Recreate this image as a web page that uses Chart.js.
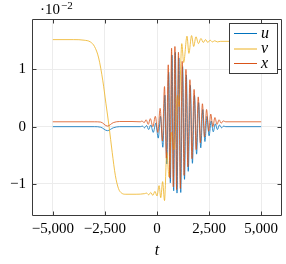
<!DOCTYPE html>
<html><head><meta charset="utf-8">
<script src="https://cdn.jsdelivr.net/npm/chart.js@4.4.1/dist/chart.umd.min.js"></script>
<style>html,body{margin:0;padding:0;background:#fff;}canvas{display:block;}</style>
</head><body>
<canvas id="c" width="286" height="264" style="width:286px;height:264px"></canvas>
<script>
// ---- data (values in units of 10^-2) ----
const xTicks = [-5000, -2500, 0, 2500, 5000];
const yTicks = [-1, 0, 1];
const seriesNames = ['u', 'v', 'x'];

const uT = [-5000,-3000,-2700,-2380,-2100,-1800,-800,-700,-600,-500,-400,-300,-180,-60,60,170,280,380,470,560,640,720,800,880,960,1050,1140,1230,1320,1410,1500,1600,1700,1800,1900,2000,2100,2200,2300,2400,2500,2600,2700,2800,2900,3000,3100,3200,3300,5000];
const uY = [0,0,-0.01,-0.07,-0.02,0,0,0.01,-0.02,0.02,-0.05,0.03,-0.10,0.06,-0.20,0.18,-0.36,0.55,-0.65,0.95,-0.98,1.25,-1.12,1.30,-1.16,1.20,-1.15,1.05,-0.92,0.90,-0.78,0.72,-0.64,0.55,-0.48,0.42,-0.37,0.30,-0.26,0.18,-0.16,0.10,-0.09,0.05,-0.05,0.03,-0.02,0.01,0,0];

const vT = [-5000,-4000,-3500,-3200,-3000,-2800,-2600,-2450,-2300,-2150,-2000,-1850,-1700,-1500,-1000,-600,-500,-400,-300,-200,-100,0,100,180,270,360,470,580,700,820,980,1060,1190,1280,1440,1530,1660,1760,1870,1990,2110,2220,2330,2440,2550,2660,2770,2900,3050,5000];
const vY = [1.52,1.52,1.51,1.48,1.40,1.20,0.80,0.40,0.00,-0.45,-0.85,-1.08,-1.16,-1.18,-1.18,-1.17,-1.16,-1.19,-1.15,-1.20,-1.13,-1.21,-1.03,-1.24,-0.96,-1.29,-0.45,-0.88,-0.10,-0.40,0.55,0.35,1.45,1.12,1.58,1.28,1.59,1.40,1.57,1.45,1.54,1.47,1.52,1.47,1.51,1.48,1.50,1.48,1.49,1.49];

const xT = [-5000,-3000,-2700,-2380,-2100,-1800,-1200,-800,-720,-620,-520,-420,-320,-200,-80,40,150,260,360,450,540,620,700,780,860,940,1030,1120,1210,1300,1390,1480,1580,1680,1780,1880,1980,2080,2180,2280,2380,2480,2580,2680,2780,2880,2980,3080,3180,3300,5000];
const xY = [0.085,0.085,0.08,0.01,0.07,0.09,0.09,0.085,0.10,0.07,0.12,0.04,0.14,0.00,0.18,-0.10,0.32,-0.25,0.70,-0.55,1.08,-0.90,1.37,-1.05,1.40,-1.10,1.30,-1.08,1.14,-0.85,1.00,-0.70,0.82,-0.56,0.65,-0.40,0.52,-0.28,0.40,-0.18,0.30,-0.08,0.22,0.00,0.16,0.04,0.12,0.06,0.10,0.085,0.085];

const colors = ['#0072BD', '#EDB120', '#D95319'];
const serif = "'Liberation Serif', 'DejaVu Serif', serif";

function pts(T, Y) { return T.map((t, i) => ({x: t, y: Y[i]})); }
function fmt(v) { return (v < 0 ? '\u2212' : '') + Math.abs(v).toLocaleString('en-US'); }

const decor = {
  id: 'decor',
  afterDatasetsDraw(chart) {
    const ctx = chart.ctx, a = chart.chartArea;
    const xs = chart.scales.x, ys = chart.scales.y;
    ctx.save();
    ctx.strokeStyle = '#3a3a3a';
    ctx.lineWidth = 1;
    ctx.beginPath();
    const L = Math.round(a.left) + 0.5, R = Math.round(a.right) - 0.5, T = Math.round(a.top) + 0.5, B = Math.round(a.bottom) - 0.5;
    ctx.rect(L, T, R - L, B - T);
    xTicks.forEach(v => {
      const px = Math.round(xs.getPixelForValue(v)) + 0.5;
      ctx.moveTo(px, B); ctx.lineTo(px, B - 4);
      ctx.moveTo(px, T); ctx.lineTo(px, T + 4);
    });
    yTicks.forEach(v => {
      const py = Math.round(ys.getPixelForValue(v)) + 0.5;
      ctx.moveTo(L, py); ctx.lineTo(L + 4, py);
      ctx.moveTo(R, py); ctx.lineTo(R - 4, py);
    });
    ctx.stroke();
    // multiplier
    ctx.fillStyle = '#000';
    ctx.textBaseline = 'alphabetic';
    ctx.textAlign = 'left';
    ctx.font = '15px ' + serif;
    const base = '\u00b710';
    ctx.fillText(base, 40, 14);
    const w = ctx.measureText(base).width;
    ctx.font = '11px ' + serif;
    ctx.fillText('\u22122', 40 + w + 1, 9);
    // legend
    const lx = 229.5, ly = 23.5, lw = 48, lh = 50;
    ctx.fillStyle = '#fff';
    ctx.fillRect(lx, ly, lw, lh);
    ctx.strokeStyle = '#3a3a3a';
    ctx.strokeRect(lx, ly, lw, lh);
    const rows = [33.5, 49, 63.5];
    seriesNames.forEach((n, i) => {
      ctx.strokeStyle = colors[i];
      ctx.lineWidth = 1;
      ctx.beginPath();
      ctx.moveTo(234, rows[i]); ctx.lineTo(257, rows[i]);
      ctx.stroke();
      ctx.fillStyle = '#000';
      ctx.font = 'italic 16px ' + serif;
      ctx.textBaseline = 'alphabetic';
      ctx.fillText(n, 261, rows[i] + 4);
    });
    ctx.restore();
  }
};

new Chart(document.getElementById('c'), {
  type: 'scatter',
  data: {
    datasets: [
      {label: 'u', data: pts(uT, uY), borderColor: colors[0], order: 3},
      {label: 'v', data: pts(vT, vY), borderColor: colors[1], order: 2},
      {label: 'x', data: pts(xT, xY), borderColor: colors[2], order: 1}
    ].map(d => Object.assign(d, {showLine: true, pointRadius: 0, borderWidth: 0.8, cubicInterpolationMode: 'monotone', fill: false}))
  },
  options: {
    responsive: false,
    devicePixelRatio: 1,
    animation: false,
    layout: {padding: {top: 19, right: 4, left: 0, bottom: 0}},
    plugins: {legend: {display: false}, tooltip: {enabled: false}},
    scales: {
      x: {
        type: 'linear', min: -6000, max: 6000,
        afterBuildTicks: s => { s.ticks = xTicks.map(v => ({value: v})); },
        afterFit: s => { s.height = 48; },
        grid: {color: '#ececec', drawTicks: false},
        border: {display: false},
        ticks: {padding: 4, color: '#000', font: {family: serif, size: 15}, callback: v => fmt(v), maxRotation: 0, autoSkip: false},
        title: {display: true, text: 't', color: '#000', font: {family: serif, size: 16, style: 'italic'}, padding: {top: 0, bottom: 4}}
      },
      y: {
        type: 'linear', min: -1.56, max: 1.88,
        afterBuildTicks: s => { s.ticks = yTicks.map(v => ({value: v})); },
        afterFit: s => { s.width = 32; },
        grid: {color: '#ececec', drawTicks: false},
        border: {display: false},
        ticks: {padding: 6, color: '#000', font: {family: serif, size: 15}, callback: v => fmt(v)}
      }
    }
  },
  plugins: [decor]
});
</script>
</body></html>
